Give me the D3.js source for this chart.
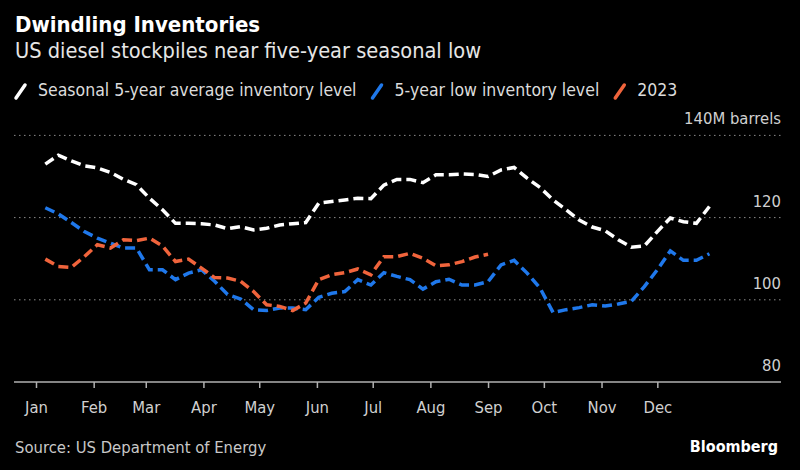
<!DOCTYPE html>
<html>
<head>
<meta charset="utf-8">
<script src="https://cdn.jsdelivr.net/npm/d3@7"></script>
<style>
  html, body { margin: 0; padding: 0; background: #000; }
  svg { display: block; }
  text { font-family: "Liberation Sans Narrow", "DejaVu Sans Condensed", "Roboto", sans-serif; }
</style>
</head>
<body>
<svg id="chart" width="800" height="470"></svg>
<script>
// weekly EIA readings, million barrels
const avgLevel = [
  133.0, 135.2, 133.8, 132.6, 132.1, 131.0, 129.3, 128.0, 124.7, 121.9,
  118.6, 118.6, 118.5, 118.2, 117.3, 117.8, 117.0, 117.4, 118.2, 118.5,
  118.8, 123.5, 123.9, 124.3, 124.7, 124.6, 127.9, 129.3, 129.3, 128.5,
  130.4, 130.4, 130.6, 130.5, 130.0, 131.6, 132.2, 129.6, 127.3, 124.3,
  121.9, 119.4, 117.7, 116.8, 114.6, 112.8, 113.1, 116.6, 119.9, 119.0,
  118.6, 122.7
]
const lowLevel = [
  122.4, 120.9, 118.8, 116.6, 115.0, 113.8, 112.6, 112.6, 107.3, 107.3,
  104.9, 106.5, 107.3, 104.5, 101.3, 100.2, 97.6, 97.4, 98.0, 98.0,
  97.6, 100.6, 101.6, 102.0, 104.9, 103.6, 106.6, 105.7, 104.9, 102.6,
  104.4, 105.0, 103.6, 103.6, 104.4, 108.5, 109.6, 106.5, 102.8, 96.9,
  97.6, 98.1, 98.8, 98.5, 99.0, 99.6, 103.2, 107.3, 111.9, 109.6,
  109.6, 111.2
]
const level2023 = [
  109.9, 108.1, 107.9, 110.5, 113.4, 112.6, 114.6, 114.4, 115.0, 113.1,
  109.3, 109.9, 107.7, 105.4, 105.3, 104.5, 102.0, 98.8, 98.4, 97.4,
  99.2, 104.9, 106.1, 106.6, 107.5, 106.1, 110.5, 110.5, 111.3, 110.1,
  108.3, 108.5, 109.3, 110.4, 111.1
]
const yTicks = [80, 100, 120, 140]

// report weeks end on fridays
const weeks = d3.timeFriday.range(new Date(2023, 0, 6), new Date(2024, 0, 1))

const series = [
  { name: 'Seasonal 5-year average inventory level', color: '#ffffff', values: avgLevel },
  { name: '5-year low inventory level', color: '#1f78eb', values: lowLevel },
  { name: '2023', color: '#f0643c', values: level2023 }
]

const svg = d3.select('#chart')

svg.append('rect').attr('width', 800).attr('height', 470).attr('fill', '#000')

// header
svg.append('text')
  .attr('x', 15).attr('y', 32)
  .attr('fill', '#fff')
  .attr('font-size', 22).attr('font-weight', 'bold')
  .text('Dwindling Inventories')

svg.append('text')
  .attr('x', 15).attr('y', 58)
  .attr('fill', '#e6e6e6')
  .attr('font-size', 21.6)
  .text('US diesel stockpiles near five-year seasonal low')

// legend
const legend = svg.append('g').attr('transform', 'translate(15,96)')
let lx = 0
series.forEach(function(s) {
  legend.append('line')
    .attr('x1', lx + 1).attr('y1', 2)
    .attr('x2', lx + 10).attr('y2', -11)
    .attr('stroke', s.color)
    .attr('stroke-width', 3.5)
    .attr('stroke-linecap', 'round')
  const t = legend.append('text')
    .attr('x', lx + 23).attr('y', 0)
    .attr('fill', '#dcdcdc')
    .attr('font-size', 17.5)
    .text(s.name)
  lx += 23 + t.node().getComputedTextLength() + 15
})

// scales
const xSc = d3.scaleTime()
  .domain([new Date(2023, 0, 1), new Date(2024, 0, 1)])
  .range([36, 715])

const ySc = d3.scaleLinear()
  .domain([80, 140])
  .range([382, 135.4])

// gridlines + right side labels
const grid = svg.append('g')
grid.selectAll('line')
  .data(yTicks.filter(d => d > 80))
  .enter()
  .append('line')
  .attr('x1', 14).attr('x2', 781)
  .attr('y1', d => ySc(d)).attr('y2', d => ySc(d))
  .attr('stroke', '#8a8a8a')
  .attr('stroke-width', 1)
  .attr('stroke-dasharray', '1.5,3.5')

grid.selectAll('text')
  .data(yTicks)
  .enter()
  .append('text')
  .attr('x', 781)
  .attr('y', d => ySc(d) - 11)
  .attr('text-anchor', 'end')
  .attr('fill', '#d0d0d0')
  .attr('font-size', 16.5)
  .text(d => d === 140 ? '140M barrels' : d)

// lines
const line = d3.line()
  .x((d, i) => xSc(weeks[i]))
  .y(d => ySc(d))

svg.append('g')
  .selectAll('path')
  .data(series)
  .enter()
  .append('path')
  .attr('d', d => line(d.values))
  .attr('fill', 'none')
  .attr('stroke', d => d.color)
  .attr('stroke-width', 3.5)
  .attr('stroke-dasharray', '10,5')

// x axis
svg.append('line')
  .attr('x1', 14).attr('x2', 781)
  .attr('y1', ySc(80)).attr('y2', ySc(80))
  .attr('stroke', '#b0b0b0')
  .attr('stroke-width', 1.5)

const xAxis = d3.axisBottom(xSc)
  .ticks(d3.timeMonth.every(1))
  .tickFormat(d3.timeFormat('%b'))
  .tickSize(6)
  .tickPadding(13)

const gx = svg.append('g')
  .attr('transform', `translate(0,${ySc(80)})`)
  .call(xAxis)

gx.select('.domain').remove()
gx.selectAll('.tick').filter(d => d.getFullYear() > 2023).remove()
gx.selectAll('.tick line').attr('stroke', '#b0b0b0').attr('stroke-width', 1.5)
gx.selectAll('.tick text')
  .attr('fill', '#d0d0d0')
  .attr('font-size', 16.5)
  .attr('font-family', '"Liberation Sans Narrow", "DejaVu Sans Condensed", sans-serif')

// footer
svg.append('text')
  .attr('x', 15).attr('y', 453)
  .attr('fill', '#c8c8c8')
  .attr('font-size', 16.5)
  .text('Source: US Department of Energy')

svg.append('text')
  .attr('x', 778).attr('y', 452)
  .attr('text-anchor', 'end')
  .attr('fill', '#fff')
  .attr('font-size', 16).attr('font-weight', 'bold')
  .text('Bloomberg')
</script>
</body>
</html>
